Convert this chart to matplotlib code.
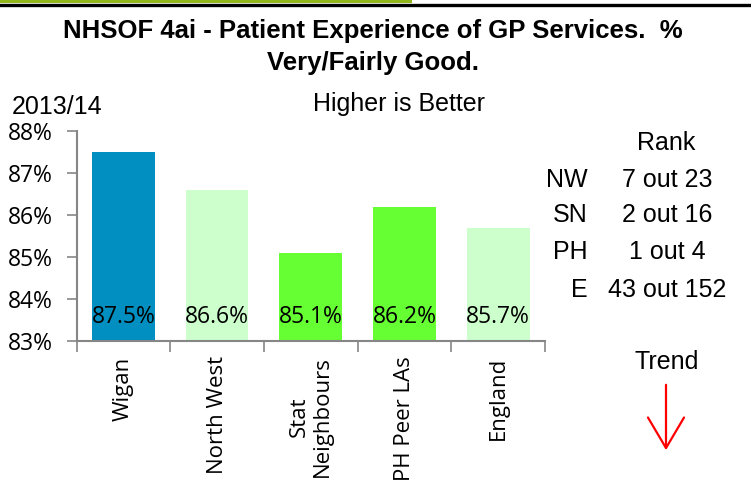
import numpy as np
import matplotlib
matplotlib.use("Agg")
import matplotlib.pyplot as plt
from matplotlib.ticker import FuncFormatter, FixedLocator

# data
categories = ["Wigan", "North West", "Stat\nNeighbours", "PH Peer LAs", "England"]
values = [87.5, 86.6, 85.1, 86.2, 85.7]
bar_colors = ["#008FC0", "#CCFFCC", "#66FF33", "#66FF33", "#CCFFCC"]
rank_labels = ["NW", "SN", "PH", "E"]
rank_values = ["7 out 23", "2 out 16", "1 out 4", "43 out 152"]

W, H = 751, 495
fig = plt.figure(figsize=(W / 100, H / 100), dpi=100)

ARIAL = "Liberation Sans"
CALIBRI = "Open Sans"
GREY = "#868686"
FS = 18  # arial-ish annotation size
CS = 16.5  # calibri-ish axis size

ax = fig.add_axes([76.5 / W, 1 - 341 / H, (545 - 76.5) / W, (341 - 131) / H])
x = np.arange(len(categories))
ax.bar(x, values, width=0.67, color=bar_colors, bottom=0)
ax.set_ylim(83, 88)
ax.set_xlim(-0.5, len(categories) - 0.5)

for xi, v in zip(x, values):
    ax.text(xi, 83.58, "%.1f%%" % v, ha="center", va="center",
            fontsize=CS, family=CALIBRI, color="black")

ax.set_yticks(np.arange(83, 89, 1))
ax.yaxis.set_major_formatter(FuncFormatter(lambda v, p: "%d%%" % v))
ax.tick_params(axis="y", direction="out", length=7, color=GREY, width=1.2,
               pad=10, labelsize=CS)
for lbl in ax.get_yticklabels():
    lbl.set_family(CALIBRI)

ax.set_xticks(x)
ax.set_xticklabels(categories, rotation=90, va="top", ha="center",
                   multialignment="center", family=CALIBRI, fontsize=16,
                   linespacing=1.15)
ax.tick_params(axis="x", which="major", length=0, pad=11)
ax.xaxis.set_minor_locator(FixedLocator(np.arange(-0.5, len(categories), 1)))
ax.tick_params(axis="x", which="minor", direction="out", length=8,
               color=GREY, width=1.2)

for s in ["top", "right"]:
    ax.spines[s].set_visible(False)
for s in ["left", "bottom"]:
    ax.spines[s].set_color(GREY)
    ax.spines[s].set_linewidth(1.5)

# header lines
fig.add_artist(plt.Line2D([0, 410 / W], [1 - 1 / H, 1 - 1 / H], color="#92B71C", lw=2.2))
fig.add_artist(plt.Line2D([0, 1], [1 - 4.5 / H, 1 - 4.5 / H], color="black", lw=2.4))

fig.text(373 / W, 1 - 47 / H, "NHSOF 4ai - Patient Experience of GP Services.  %\nVery/Fairly Good.",
         ha="center", va="center", family=ARIAL, weight="bold", fontsize=18.5,
         linespacing=1.45)
fig.text(12 / W, 1 - 107 / H, "2013/14", ha="left", va="center",
         family=ARIAL, fontsize=FS)
fig.text(399 / W, 1 - 104 / H, "Higher is Better", ha="center", va="center",
         family=ARIAL, fontsize=FS)

fig.text(666 / W, 1 - 143 / H, "Rank", ha="center", va="center",
         family=ARIAL, fontsize=FS)
row_y = [180, 215, 252, 290]
for lab, val, yy in zip(rank_labels, rank_values, row_y):
    fig.text(588 / W, 1 - yy / H, lab, ha="right", va="center",
             family=ARIAL, fontsize=FS)
    fig.text(667 / W, 1 - yy / H, val, ha="center", va="center",
             family=ARIAL, fontsize=FS)

fig.text(667 / W, 1 - 362 / H, "Trend", ha="center", va="center",
         family=ARIAL, fontsize=FS)
fig.add_artist(matplotlib.patches.FancyArrowPatch(
    (666 / W, 1 - 382 / H), (666 / W, 1 - 453 / H), transform=fig.transFigure,
    arrowstyle="->,head_length=11,head_width=6.5", color="red", lw=1.6,
    mutation_scale=2))

fig.savefig("out.png", dpi=100)
